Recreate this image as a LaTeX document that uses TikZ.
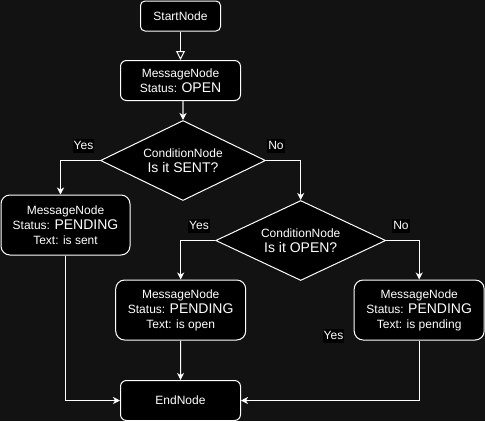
\documentclass[tikz,border=0pt]{standalone}
\usepackage{fontspec}
\setmainfont{Liberation Sans}
\usetikzlibrary{positioning,shapes.geometric,arrows.meta}
\definecolor{canvas}{HTML}{121212}
\definecolor{shaftgray}{HTML}{A0A0A0}
\newcommand{\bigword}[1]{{\fontsize{14}{15}\selectfont #1}}

\begin{document}
\begin{tikzpicture}[x=1pt, y=-1pt, >={Stealth[length=7pt,width=7pt,inset=2pt]},
  msgBox/.style={draw=white, fill=black, text=white, line width=1pt,
    rounded corners=9pt, align=center, inner sep=0pt,
    minimum width=130pt, minimum height=60pt, font=\fontsize{12}{15}\selectfont},
  condBox/.style={diamond, draw=white, fill=black, text=white, line width=1pt,
    aspect=2, inner sep=0pt, align=center, font=\fontsize{12}{15}\selectfont},
  flow/.style={->, draw=white, line width=1pt},
  lbl/.style={fill=black, text=white, inner xsep=1pt, inner ysep=1pt,
    text height=9pt, text depth=3pt, font=\fontsize{12}{14}\selectfont}
]
\useasboundingbox (0,0) rectangle (485,421);
\fill[canvas] (0,0) rectangle (485,421);

% --- nodes -------------------------------------------------------------
\node (start) [msgBox, rounded corners=4.5pt, minimum width=80pt, minimum height=30pt]
  at (180.5,16) {StartNode};
\node (msgOpen) [msgBox, rounded corners=6pt, minimum width=120pt, minimum height=40pt]
  at (180.5,80.5) {MessageNode\\Status: \bigword{OPEN}};
\node (condSent) [condBox, minimum width=165pt, minimum height=80pt]
  at (183,160.5) {ConditionNode\\\bigword{Is it SENT?}};
\node (msgSent) [msgBox, minimum width=129pt] at (65.5,225)
  {MessageNode\\Status: \bigword{PENDING}\\Text: is sent};
\node (condOpen) [condBox, minimum width=170pt, minimum height=80pt]
  at (300.7,240.5) {ConditionNode\\\bigword{Is it OPEN?}};
\node (msgIsOpen) [msgBox] at (180.7,310)
  {MessageNode\\Status: \bigword{PENDING}\\Text: is open};
\node (msgPending) [msgBox] at (419.2,310)
  {MessageNode\\Status: \bigword{PENDING}\\Text: is pending};
\node (endNode) [msgBox, rounded corners=6pt, minimum width=120pt, minimum height=40pt]
  at (180.5,400.5) {EndNode};

% --- labels ------------------------------------------------------------
\node (yesSent) [lbl] at (83.5,146) {Yes};
\node (noSent) [lbl] at (276,146) {No};
\node (yesOpen) [lbl] at (199,226) {Yes};
\node (noOpen) [lbl] at (401,226) {No};
\node (yesLoose) [lbl] at (333.5,336) {Yes};

% --- connectors --------------------------------------------------------
\draw[flow, -{Triangle[open,length=9pt,width=9pt]}] (start) -- (msgOpen);
\draw[line width=2pt, draw=shaftgray, -{Stealth[length=7pt,width=7pt,inset=2pt,color=white]}]
  (condSent.north |- msgOpen.south) -- (condSent.north);
\draw[flow] (condSent.west) -| ([xshift=-5pt]msgSent.north);
\draw[flow] (condSent.east) -| (condOpen.north);
\draw[flow] (condOpen.west) -| (msgIsOpen.north);
\draw[flow] (condOpen.east) -| (msgPending.north);
\draw[flow] (msgIsOpen) -- (endNode);
\draw[flow] (msgSent.south) |- (endNode.west);
\draw[flow] (msgPending.south) |- (endNode.east);
\end{tikzpicture}
\end{document}
